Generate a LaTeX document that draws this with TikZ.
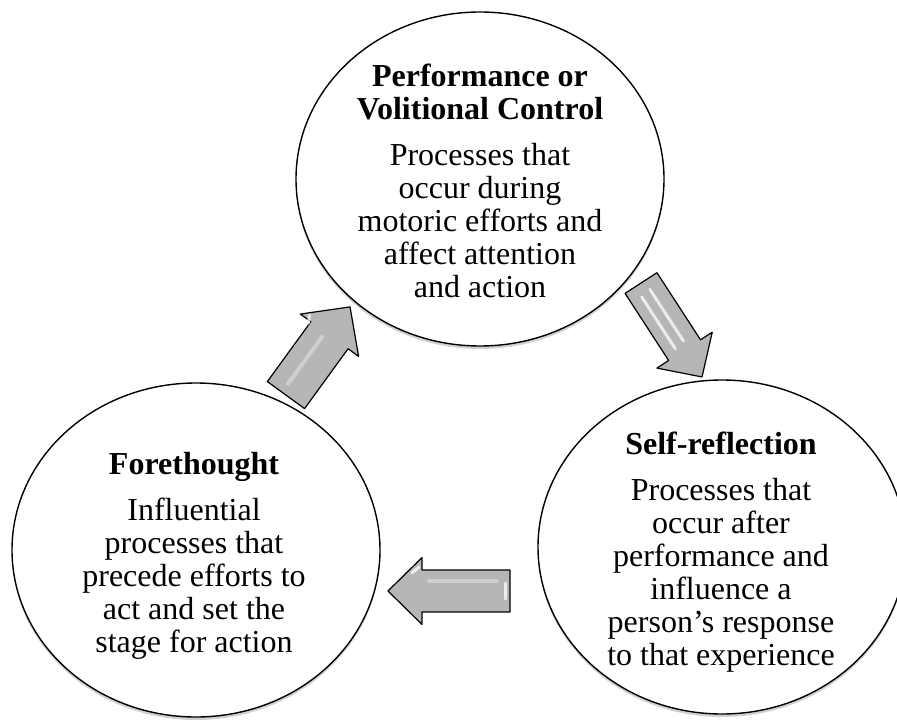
\documentclass[tikz,border=0pt]{standalone}
\usepackage{fontspec}
\setmainfont{Liberation Serif}
\usetikzlibrary{shapes.geometric,shadows}
\tikzset{
  phase/.style={ellipse, draw=black, line width=1.4pt, fill=white,
    minimum width=368pt, minimum height=334pt, inner sep=0pt,
    drop shadow={shadow xshift=0pt, shadow yshift=-3pt, opacity=0.18, fill=black}},
  phasetext/.style={align=center, inner sep=0pt, anchor=north,
    font=\fontsize{32}{33}\selectfont},
  barrowfill/.style={fill={rgb,255:red,182;green,182;blue,182}, draw=black,
    line width=1.2pt, line join=round},
  barrowshine/.style={draw=white, opacity=0.75, line width=3pt, line cap=round},
  barrowsoft/.style={draw=white, opacity=0.35, line width=4pt, line cap=round},
}
% #1 centre, #2 angle, #3 half length, #4 half shaft, #5 half head, #6 head length
\newcommand\blockarr[6]{%
  \begin{scope}[shift={#1}, rotate=#2]
    \filldraw[barrowfill] (-#3,-#4) -- ({#3-#6},-#4) -- ({#3-#6},-#5) -- (#3,0)
      -- ({#3-#6},#5) -- ({#3-#6},#4) -- (-#3,#4) -- cycle;
  \end{scope}}
\begin{document}
\begin{tikzpicture}[x=1pt,y=-1pt]
\useasboundingbox (0,0) rectangle (897,722);
\node[phase] (perf) at (480,179) {};
\node[phase] (fore) at (196,550) {};
\node[phase] (self) at (722,547) {};

\node[phasetext] (perft) at (480,63.5) {\textbf{Performance or}\\\textbf{Volitional Control}\\[13pt]Processes that\\occur during\\motoric efforts and\\affect attention\\and action};
\node[phasetext] (foret) at (194,452.5) {\textbf{Forethought}\\[13pt]Influential\\processes that\\precede efforts to\\act and set the\\stage for action};
\node[phasetext] (selft) at (721,431.5) {\textbf{Self-reflection}\\[13pt]Processes that\\occur after\\performance and\\influence a\\person’s response\\to that experience};

\coordinate (a1) at (318,351);
\coordinate (a2) at (671.5,330);
\coordinate (a3) at (449,591);
\blockarr{(a1)}{54}{54.5}{23}{36}{35}
\blockarr{(a2)}{-57}{56}{19}{33}{32}
\blockarr{(a3)}{180}{61}{21}{33.5}{34}
% highlights
\begin{scope}[shift={(a1)}, rotate=54]
  \draw[barrowsoft] (-44,-5) -- (14,-5);
  \draw[barrowshine] (17,-24) -- (24,-28);
\end{scope}
\begin{scope}[shift={(a2)}, rotate=-57]
  \draw[barrowshine] (-44,7) -- (18,7);
  \draw[barrowshine] (-46,-4) -- (16,-4);
\end{scope}
\begin{scope}[shift={(a3)}, rotate=180]
  \draw[barrowshine] (-56,-8) -- (-56,8);
  \draw[barrowshine] (30,24) -- (37,18);
  \draw[barrowsoft] (-48,10) -- (20,10);
\end{scope}
\end{tikzpicture}
\end{document}
